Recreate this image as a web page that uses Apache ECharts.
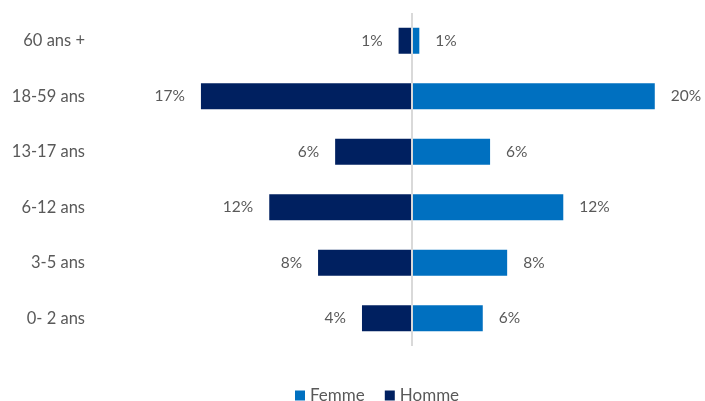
<!DOCTYPE html>
<html><head><meta charset="utf-8">
<script src="https://cdn.jsdelivr.net/npm/echarts@6/dist/echarts.min.js"></script>
<style>html,body{margin:0;padding:0;background:#fff}#c{width:705px;height:401px}</style>
</head><body><div id="c"></div>
<script>
const categories = ['0- 2 ans', '3-5 ans', '6-12 ans', '13-17 ans', '18-59 ans', '60 ans +'];
const homme = [4.1, 7.7, 11.7, 6.3, 17.3, 1.1];
const femme = [5.8, 7.8, 12.4, 6.4, 19.9, 0.6];
const FONT = 'Lato, "Open Sans", sans-serif';
const chart = echarts.init(document.getElementById('c'));
const pct = p => Math.round(Math.abs(p.value)) + '%';
chart.setOption({
  animation: false,
  textStyle: { fontFamily: FONT },
  grid: { left: 168, right: 49, top: 13, bottom: 55 },
  xAxis: {
    type: 'value', min: -20, max: 20, show: false
  },
  yAxis: {
    type: 'category', data: categories,
    axisLine: { show: false }, axisTick: { show: false },
    axisLabel: { margin: 83, color: '#595959', fontSize: 16.5, fontFamily: FONT }
  },
  legend: {
    data: ['Femme', 'Homme'], left: 290, top: 382,
    icon: 'rect', itemWidth: 10, itemHeight: 10, itemGap: 20, itemTextGap: 5,
    textStyle: { color: '#595959', fontSize: 17, fontFamily: FONT }
  },
  series: [
    {
      name: 'Homme', type: 'bar', data: homme.map(v => -v), barWidth: 26, barGap: '-100%',
      itemStyle: { color: '#002060' },
      label: { show: true, position: 'left', distance: 16, formatter: pct, color: '#595959', fontSize: 15.5, fontFamily: FONT },
      markLine: {
        silent: true, symbol: 'none', label: { show: false },
        lineStyle: { color: '#d9d9d9', width: 2, type: 'solid' },
        data: [{ xAxis: 0 }]
      }
    },
    {
      name: 'Femme', type: 'bar', data: femme, barWidth: 26,
      itemStyle: { color: '#0070c0' },
      label: { show: true, position: 'right', distance: 16, formatter: pct, color: '#595959', fontSize: 15.5, fontFamily: FONT }
    }
  ]
});
</script></body></html>
